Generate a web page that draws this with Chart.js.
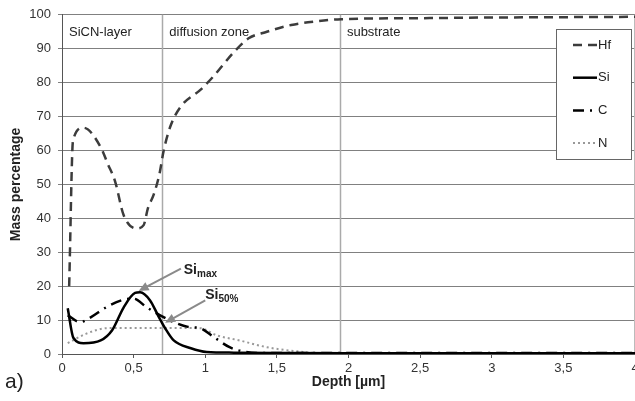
<!DOCTYPE html>
<html>
<head>
<meta charset="utf-8">
<script src="https://cdn.jsdelivr.net/npm/chart.js@4"></script>
<style>
  html, body { margin: 0; padding: 0; background: #fff; }
  #wrap { width: 635px; height: 401px; position: relative; }
</style>
</head>
<body>
<div id="wrap"><canvas id="myChart"></canvas></div>
<script>
// depth [µm] / mass percentage
var hfDepth = [0.05, 0.077, 0.15, 0.27, 0.32, 0.37, 0.43, 0.52, 0.57, 0.6, 0.64, 0.68, 0.71, 0.76, 0.83, 0.97, 1.06, 1.2, 1.3, 1.43, 1.6, 1.76, 1.95, 2.5, 3, 3.5, 4];
var hfMass  = [20, 63, 66.7, 61, 56, 51, 41, 37, 38, 43, 47, 53, 60, 67.5, 73, 78, 82, 89, 93, 95, 97, 98, 98.7, 99, 99.2, 99.3, 99.4];

var siDepth = [0.04, 0.08, 0.15, 0.27, 0.35, 0.43, 0.51, 0.545, 0.615, 0.67, 0.72, 0.78, 0.9, 1.01, 1.2, 1.5, 2, 3, 4];
var siMass  = [13.5, 4.7, 3.2, 4, 7, 13.7, 18, 18.2, 15.8, 11.4, 7.6, 4, 1.7, 0.6, 0.4, 0.3, 0.2, 0.2, 0.2];

var cDepth = [0.04, 0.126, 0.2, 0.31, 0.43, 0.5, 0.59, 0.685, 0.78, 0.88, 0.965, 1.06, 1.17, 1.27, 1.36, 1.6, 2, 3, 4];
var cMass  = [11.4, 9.4, 10.8, 13.8, 16, 16.3, 13.8, 11.4, 9.4, 8, 7.6, 5, 2, 0.7, 0.3, 0.3, 0.3, 0.3, 0.3];

var nDepth = [0.04, 0.17, 0.31, 0.5, 0.7, 0.965, 1.08, 1.24, 1.43, 1.66, 1.8, 2, 2.5, 3, 4];
var nMass  = [3.2, 6, 7.6, 7.7, 7.7, 7.6, 5.5, 4, 2, 0.7, 0.3, 0.3, 0.2, 0.2, 0.2];

var zoneStarts = [0, 0.7, 1.94];
var zoneNames = ['SiCN-layer', 'diffusion zone', 'substrate'];

function toPoints(xs, ys) {
    return xs.map(function (x, i) { return { x: x, y: ys[i] }; });
}

Chart.defaults.font.family = "'Liberation Sans', Arial, sans-serif";
Chart.defaults.font.size = 13;
Chart.defaults.color = '#333';

// zone lines, zone labels, arrows, legend box, "a)"
var extras = {
    id: 'extras',
    beforeDatasetsDraw: function (chart) {
        var ctx = chart.ctx, x = chart.scales.x, a = chart.chartArea;
        ctx.save();
        ctx.strokeStyle = '#aaa';
        ctx.lineWidth = 1.5;
        zoneStarts.slice(1).forEach(function (d) {
            var px = Math.round(x.getPixelForValue(d)) + 0.5;
            ctx.beginPath();
            ctx.moveTo(px, a.top);
            ctx.lineTo(px, a.bottom);
            ctx.stroke();
        });
        // right frame
        ctx.strokeStyle = '#bbb';
        ctx.lineWidth = 1;
        ctx.beginPath();
        ctx.moveTo(a.right - 0.5, a.top);
        ctx.lineTo(a.right - 0.5, a.bottom);
        ctx.stroke();
        ctx.fillStyle = '#222';
        ctx.font = "13px 'Liberation Sans', Arial, sans-serif";
        ctx.textBaseline = 'middle';
        zoneNames.forEach(function (name, i) {
            ctx.fillText(name, x.getPixelForValue(zoneStarts[i]) + 7, a.top + 18);
        });
        ctx.restore();
    },
    afterDraw: function (chart) {
        var ctx = chart.ctx, x = chart.scales.x, y = chart.scales.y;
        ctx.save();

        function arrow(x0, y0, x1, y1) {
            var p0 = [x.getPixelForValue(x0), y.getPixelForValue(y0)];
            var p1 = [x.getPixelForValue(x1), y.getPixelForValue(y1)];
            var ang = Math.atan2(p1[1] - p0[1], p1[0] - p0[0]);
            ctx.strokeStyle = '#8a8a8a';
            ctx.fillStyle = '#8a8a8a';
            ctx.lineWidth = 2;
            ctx.beginPath();
            ctx.moveTo(p0[0], p0[1]);
            ctx.lineTo(p1[0] - 7 * Math.cos(ang), p1[1] - 7 * Math.sin(ang));
            ctx.stroke();
            ctx.beginPath();
            ctx.moveTo(p1[0], p1[1]);
            ctx.lineTo(p1[0] - 10 * Math.cos(ang) + 4.5 * Math.sin(ang), p1[1] - 10 * Math.sin(ang) - 4.5 * Math.cos(ang));
            ctx.lineTo(p1[0] - 10 * Math.cos(ang) - 4.5 * Math.sin(ang), p1[1] - 10 * Math.sin(ang) + 4.5 * Math.cos(ang));
            ctx.closePath();
            ctx.fill();
        }
        function subLabel(d, v, main, sub) {
            var px = x.getPixelForValue(d), py = y.getPixelForValue(v);
            ctx.fillStyle = '#222';
            ctx.textBaseline = 'alphabetic';
            ctx.font = "bold 14px 'Liberation Sans', Arial, sans-serif";
            ctx.fillText(main, px, py + 5);
            var w = ctx.measureText(main).width;
            ctx.font = "bold 10px 'Liberation Sans', Arial, sans-serif";
            ctx.fillText(sub, px + w, py + 8);
        }
        arrow(0.83, 25.2, 0.535, 18.6);
        subLabel(0.85, 25.2, 'Si', 'max');
        arrow(1.0, 15.8, 0.72, 9.2);
        subLabel(1.0, 17.6, 'Si', '50%');

        // legend box
        var bx = 556, by = 29, bw = 75, bh = 130;
        ctx.fillStyle = '#fff';
        ctx.fillRect(bx, by, bw, bh);
        ctx.strokeStyle = '#666';
        ctx.lineWidth = 1;
        ctx.strokeRect(bx + 0.5, by + 0.5, bw, bh);
        ctx.font = "13px 'Liberation Sans', Arial, sans-serif";
        ctx.textBaseline = 'middle';
        chart.data.datasets.forEach(function (ds, i) {
            var ly = by + 16 + i * 32.7;
            ctx.strokeStyle = ds.borderColor;
            ctx.lineWidth = ds.borderWidth;
            ctx.setLineDash(ds.borderDash || []);
            ctx.beginPath();
            ctx.moveTo(bx + 17, ly);
            ctx.lineTo(bx + 41, ly);
            ctx.stroke();
            ctx.setLineDash([]);
            ctx.fillStyle = '#222';
            ctx.fillText(ds.label, bx + 42, ly);
        });

        ctx.fillStyle = '#222';
        ctx.font = "21px 'Liberation Sans', Arial, sans-serif";
        ctx.textBaseline = 'middle';
        ctx.fillText('a)', 5, 382);
        ctx.restore();
    }
};

var ctx = document.getElementById('myChart');
var myChart = new Chart(ctx, {
    type: 'line',
    data: {
        datasets: [
            { label: 'Hf', data: toPoints(hfDepth, hfMass), borderColor: '#3c3c3c', borderWidth: 2.5, borderDash: [9, 6] },
            { label: 'Si', data: toPoints(siDepth, siMass), borderColor: '#000', borderWidth: 2.5 },
            { label: 'C', data: toPoints(cDepth, cMass), borderColor: '#000', borderWidth: 2.5, borderDash: [11, 6, 2, 6] },
            { label: 'N', data: toPoints(nDepth, nMass), borderColor: '#999', borderWidth: 2, borderDash: [2, 3] }
        ]
    },
    options: {
        responsive: true,
        maintainAspectRatio: false,
        animation: false,
        datasets: { line: { pointRadius: 0, cubicInterpolationMode: 'monotone', fill: false } },
        layout: { padding: { top: 12, right: 0, left: 0, bottom: 0 } },
        scales: {
            x: {
                type: 'linear',
                min: 0,
                max: 4,
                afterFit: function (s) { s.height = 47; s.paddingRight = 0; s.paddingLeft = 0; },
                ticks: {
                    stepSize: 0.5,
                    padding: 3,
                    maxRotation: 0,
                    color: '#333',
                    callback: function (v) { return String(v).replace('.', ','); }
                },
                grid: { drawOnChartArea: false, tickLength: 4, color: '#555' },
                border: { color: '#555' },
                title: {
                    display: true,
                    text: 'Depth [µm]',
                    font: { size: 14, weight: 'bold' },
                    color: '#222',
                    padding: { top: 0, bottom: 10 }
                }
            },
            y: {
                min: 0,
                max: 100,
                afterFit: function (s) { s.width = 62; },
                ticks: { stepSize: 10, padding: 7, color: '#333' },
                grid: { color: '#808080', tickLength: 4 },
                border: { color: '#555' },
                title: {
                    display: true,
                    text: 'Mass percentage',
                    font: { size: 14, weight: 'bold' },
                    color: '#222',
                    padding: { top: 8, bottom: 0 }
                }
            }
        },
        plugins: {
            legend: { display: false },
            tooltip: { enabled: false }
        }
    },
    plugins: [extras]
});
</script>
</body>
</html>
